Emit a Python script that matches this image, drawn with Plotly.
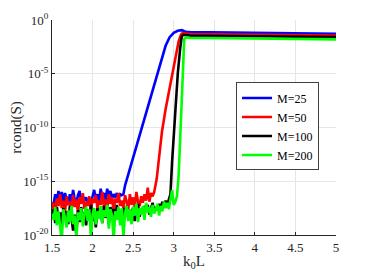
import numpy as np
import plotly.graph_objects as go

# ---- data (log10 of rcond(S)) ----
noise_start = 1.50
noise_step = 0.02

blue_noise = [-17.1,-17.1,-16.2,-16.9,-15.9,-16.7,-16.0,-17.0,-16.1,-16.6,
              -17.2,-16.2,-16.9,-15.8,-16.7,-17.1,-16.3,-15.9,-16.9,-16.4,
              -16.8,-16.5,-17.0,-16.7,-16.9,-16.4,-15.8,-16.7,-16.2,-16.9,
              -15.7,-16.5,-16.1,-16.8,-15.7,-16.4,-15.9,-16.6,-16.2,-16.5,
              -16.1,-16.6,-16.2,-16.3,-16.2]
red_noise = [-17.6,-17.0,-17.8,-16.6,-17.3,-16.2,-17.5,-16.8,-17.9,-16.4,
             -17.2,-16.9,-17.7,-16.3,-17.4,-16.7,-17.9,-16.5,-17.1,-16.1,
             -17.6,-16.9,-17.3,-16.4,-17.8,-16.6,-17.0,-16.3,-17.5,-16.8,
             -17.2,-16.0,-17.4,-16.7,-17.6,-16.2,-17.1,-16.5,-17.8,-16.6,
             -17.0,-16.1,-17.3,-16.8,-17.5,-16.3,-16.9,-17.6,-16.2,-17.2,
             -16.5,-17.4,-16.0,-16.9,-17.3,-16.4,-17.0,-16.2,-16.8,-15.6,
             -16.9,-16.1,-16.4]
black_noise = [-18.3,-17.6,-18.9,-17.4,-18.5,-17.9,-19.2,-17.5,-18.6,-17.8,
               -19.0,-17.3,-18.4,-19.6,-18.1,-19.9,-17.7,-18.8,-17.4,-18.5,
               -17.9,-19.1,-17.6,-18.3,-17.2,-18.7,-17.8,-19.3,-17.5,-18.2,
               -17.7,-18.9,-17.3,-18.4,-17.8,-19.0,-17.4,-18.1,-17.6,-18.6,
               -17.2,-18.3,-17.9,-18.8,-17.5,-18.0,-17.3,-18.5,-17.7,-18.2,
               -17.4,-18.7,-17.6,-17.1,-18.3,-17.5,-18.0,-17.3,-17.8,-17.2,
               -18.1,-17.5,-17.0,-17.9,-17.4,-17.7,-17.1,-17.6,-16.9,-17.4,
               -16.8,-17.2,-16.6]
green_noise = [-18.0,-18.6,-17.4,-19.1,-17.8,-18.9,-20.6,-17.6,-18.4,-19.3,
               -17.7,-18.8,-17.3,-19.0,-18.2,-20.4,-17.9,-18.6,-17.5,-19.2,
               -18.0,-17.4,-18.7,-17.6,-20.3,-18.1,-17.5,-19.0,-17.8,-18.5,
               -17.3,-18.9,-17.7,-18.3,-17.2,-19.4,-17.6,-18.2,-20.5,-17.8,
               -18.6,-17.4,-19.1,-17.5,-20.2,-18.0,-17.3,-18.7,-17.6,-19.0,
               -17.4,-18.2,-17.1,-18.8,-17.5,-18.1,-17.3,-18.6,-17.0,-17.9,
               -17.4,-18.3,-17.2,-18.0,-17.6,-17.1,-18.2,-17.3,-17.8,-16.9,
               -17.5,-17.0,-17.6,-16.8,-15.8,-17.2,-16.9]

blue_rise_x = [2.40, 2.50, 2.60, 2.70, 2.80, 2.90, 2.95, 3.00, 3.05, 3.08, 3.10, 3.13, 3.16]
blue_rise_y = [-15.4, -12.8, -10.1, -7.5, -4.9, -2.4, -1.6, -1.2, -1.0, -0.93, -0.95, -1.05, -1.12]
red_rise_x = [2.76, 2.79, 2.82, 2.855, 2.90, 2.95, 2.98, 3.02, 3.06, 3.09, 3.11, 3.14, 3.17]
red_rise_y = [-16.0, -14.8, -12.5, -10.4, -8.3, -6.4, -5.0, -3.4, -2.0, -1.35, -1.2, -1.25, -1.28]
black_rise_x = [2.96, 2.98, 3.00, 3.03, 3.05, 3.08, 3.10, 3.12, 3.15, 3.18]
black_rise_y = [-16.2, -13.2, -10.6, -7.0, -5.0, -2.6, -1.5, -1.38, -1.42, -1.44]
green_rise_x = [3.04, 3.06, 3.08, 3.10, 3.12, 3.13, 3.15, 3.18]
green_rise_y = [-16.4, -14.5, -11.0, -7.2, -3.2, -1.75, -1.62, -1.65]

plateau_x = [3.2, 3.4, 3.6, 3.8, 4.0, 4.2, 4.4, 4.6, 4.8, 5.0]
blue_plateau = [-1.13, -1.15, -1.17, -1.18, -1.20, -1.22, -1.23, -1.25, -1.27, -1.29]
red_plateau = [-1.30, -1.32, -1.33, -1.35, -1.36, -1.38, -1.39, -1.41, -1.42, -1.44]
black_plateau = [-1.45, -1.47, -1.48, -1.50, -1.51, -1.53, -1.54, -1.56, -1.57, -1.59]
green_plateau = [-1.66, -1.68, -1.69, -1.71, -1.72, -1.74, -1.75, -1.77, -1.78, -1.80]

names = ["M=25", "M=50", "M=100", "M=200"]
colors = ["#0000ff", "#ff0000", "#000000", "#00ff00"]

y_tick_exps = [-20, -15, -10, -5, 0]
x_ticks = [1.5, 2, 2.5, 3, 3.5, 4, 4.5, 5]
x_tick_labels = ["1.5", "2", "2.5", "3", "3.5", "4", "4.5", "5"]

series = [
    (blue_noise, blue_rise_x, blue_rise_y, blue_plateau),
    (red_noise, red_rise_x, red_rise_y, red_plateau),
    (black_noise, black_rise_x, black_rise_y, black_plateau),
    (green_noise, green_rise_x, green_rise_y, green_plateau),
]

fig = go.Figure()
for (noise, rx, ry, plat), name, col in zip(series, names, colors):
    nx = [round(noise_start + i * noise_step, 4) for i in range(len(noise))]
    x = nx + rx + plateau_x
    y = [10.0 ** v for v in (noise + ry + plat)]
    fig.add_trace(go.Scatter(x=x, y=y, mode="lines", name=name,
                             line=dict(color=col, width=2.6)))

font_family = "Liberation Serif"
# page body has an 8px default margin, so the figure is sized to fit the window
fig.update_layout(
    width=363, height=270,
    margin=dict(l=44, r=35, t=12, b=43),
    paper_bgcolor="white", plot_bgcolor="white",
    font=dict(family=font_family, size=13, color="#262626"),
    showlegend=True,
    legend=dict(x=0.648, y=0.505, xanchor="left", yanchor="middle",
                bgcolor="white", bordercolor="#404040", borderwidth=1,
                font=dict(family=font_family, size=12, color="#000000"),
                itemwidth=30, tracegroupgap=0),
)
fig.update_xaxes(
    range=[1.5, 5], tickvals=x_ticks, ticktext=x_tick_labels,
    tickfont=dict(family=font_family, size=13, color="#262626"),
    showgrid=True, gridcolor="#e6e6e6", gridwidth=1,
    showline=True, linecolor="#262626", linewidth=1, mirror=False,
    ticks="inside", ticklen=3, tickcolor="#262626", zeroline=False,
    title=dict(text="k<sub>0</sub>L", font=dict(size=15, family=font_family, color="#262626"),
               standoff=1),
    automargin=False,
)
fig.update_yaxes(
    type="log", range=[-20, 0],
    tickvals=[10.0 ** e for e in y_tick_exps],
    ticktext=["10<sup>%d</sup>" % e for e in y_tick_exps],
    tickfont=dict(family=font_family, size=13, color="#262626"),
    showgrid=True, gridcolor="#e6e6e6", gridwidth=1,
    showline=True, linecolor="#262626", linewidth=1, mirror=False,
    ticks="inside", ticklen=3, tickcolor="#262626", zeroline=False,
    title=dict(text="rcond(S)", font=dict(size=15, family=font_family, color="#262626"),
               standoff=2),
    automargin=False,
)

fig.write_html("out.html")
